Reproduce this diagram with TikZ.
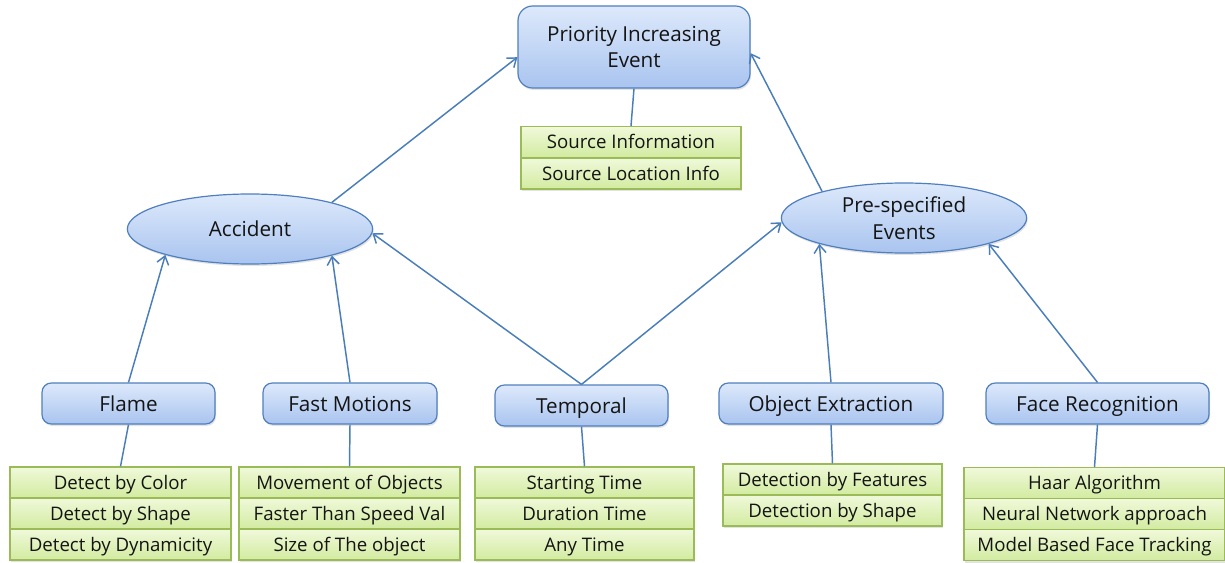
\documentclass[tikz,border=0pt]{standalone}
\usepackage{fontspec}
\setmainfont{Open Sans}
\usetikzlibrary{shapes.geometric,arrows.meta,shadows}
\definecolor{bborder}{HTML}{4F7FBF}
\definecolor{btop}{HTML}{DDE9FB}
\definecolor{bbot}{HTML}{A9C4EF}
\definecolor{gborder}{HTML}{9BBB59}
\definecolor{gtop}{HTML}{F0F9DA}
\definecolor{gbot}{HTML}{D2EBA0}
\definecolor{conn}{HTML}{4A7EBB}
\definecolor{txt}{HTML}{141414}
\begin{document}
\begin{tikzpicture}[x=0.75pt,y=-0.75pt,
  every node/.style={text=txt},
  shad/.style={drop shadow={opacity=0.22,shadow xshift=0.8pt,shadow yshift=-1.5pt}},
  topbox/.style={shad,draw=bborder,line width=0.9pt,rounded corners=7pt,
    top color=btop,bottom color=bbot,minimum height=30.75pt,inner sep=0pt,
    font=\fontsize{15.5}{20}\selectfont},
  onel/.style={text height=14.5pt,text depth=3pt},
  oval/.style={shad,ellipse,draw=bborder,line width=0.9pt,top color=btop,bottom color=bbot,
    minimum width=184pt,minimum height=52.5pt,inner sep=0pt,align=center,
    font=\fontsize{15.5}{20}\selectfont},
  listrow/.style={shad,draw=gborder,line width=0.9pt,top color=gtop,bottom color=gbot,
    minimum height=23.25pt,inner sep=0pt,text height=13pt,text depth=3pt,
    font=\fontsize{14}{16}\selectfont},
  arr/.style={draw=conn,line width=1.1pt,-{Straight Barb[length=6pt,width=9pt,line width=1.1pt]}},
  ln/.style={draw=conn,line width=1.1pt}]
\useasboundingbox (0,0) rectangle (1225,563);

% top
\node[topbox,rounded corners=11pt,minimum width=174pt,minimum height=61.5pt,align=center] (pri) at (634,47) {Priority Increasing\\Event};
\node[listrow,minimum width=165pt] (s1) at (631,142) {Source Information};
\node[listrow,minimum width=165pt] (s2) at (631,173.5) {Source Location Info};

% ellipses
\node[oval] (acc) at (250,229) {Accident};
\node[oval] (pre) at (904,218) {Pre-specified\\Events};

% level boxes
\node[topbox,onel,minimum width=129.75pt] (flame) at (128.5,403.5) {Flame};
\node[topbox,onel,minimum width=130.5pt] (fast) at (350,403.5) {Fast Motions};
\node[topbox,onel,minimum width=129.75pt] (temp) at (581.5,405.5) {Temporal};
\node[topbox,onel,minimum width=168pt] (obj) at (831,403.5) {Object Extraction};
\node[topbox,onel,minimum width=167.25pt] (face) at (1097.5,403.5) {Face Recognition};

% lists
\node[listrow,minimum width=165.75pt] (f1) at (120.5,482.5) {Detect by Color};
\node[listrow,minimum width=165.75pt] (f2) at (120.5,513.5) {Detect by Shape};
\node[listrow,minimum width=165.75pt] (f3) at (120.5,544.5) {Detect by Dynamicity};

\node[listrow,minimum width=165.75pt] (m1) at (349.5,482.5) {Movement of Objects};
\node[listrow,minimum width=165.75pt] (m2) at (349.5,513.5) {Faster Than Speed Val};
\node[listrow,minimum width=165.75pt] (m3) at (349.5,544.5) {Size of The object};

\node[listrow,minimum width=164.25pt] (t1) at (584.5,482.5) {Starting Time};
\node[listrow,minimum width=164.25pt] (t2) at (584.5,513.5) {Duration Time};
\node[listrow,minimum width=164.25pt] (t3) at (584.5,544.5) {Any Time};

\node[listrow,minimum width=164.25pt] (o1) at (832.5,479.5) {Detection by Features};
\node[listrow,minimum width=164.25pt] (o2) at (832.5,510.5) {Detection by Shape};

\node[listrow,minimum width=195.75pt] (h1) at (1094.5,483) {Haar Algorithm};
\node[listrow,minimum width=195.75pt] (h2) at (1094.5,514) {Neural Network approach};
\node[listrow,minimum width=195.75pt] (h3) at (1094.5,545) {Model Based Face Tracking};

% plain connectors
\draw[ln] (pri.south) -- (s1.north);
\draw[ln] (flame.south) -- (f1.north);
\draw[ln] (fast.south) -- (m1.north);
\draw[ln] (temp.south) -- (t1.north);
\draw[ln] (obj.south) -- (o1.north);
\draw[ln] (face.south) -- (h1.north);

% arrows
\draw[arr] (acc.18) -- (pri.185);
\draw[arr] (pre.162) -- (pri.-3);
\draw[arr] (flame.north) -- (acc.197);
\draw[arr] (fast.north) -- (acc.-18);
\draw[arr] (temp.north) -- (acc.-2);
\draw[arr] (temp.north) -- (pre.182);
\draw[arr] (obj.north) -- (pre.197);
\draw[arr] (face.north) -- (pre.-17);
\end{tikzpicture}
\end{document}
